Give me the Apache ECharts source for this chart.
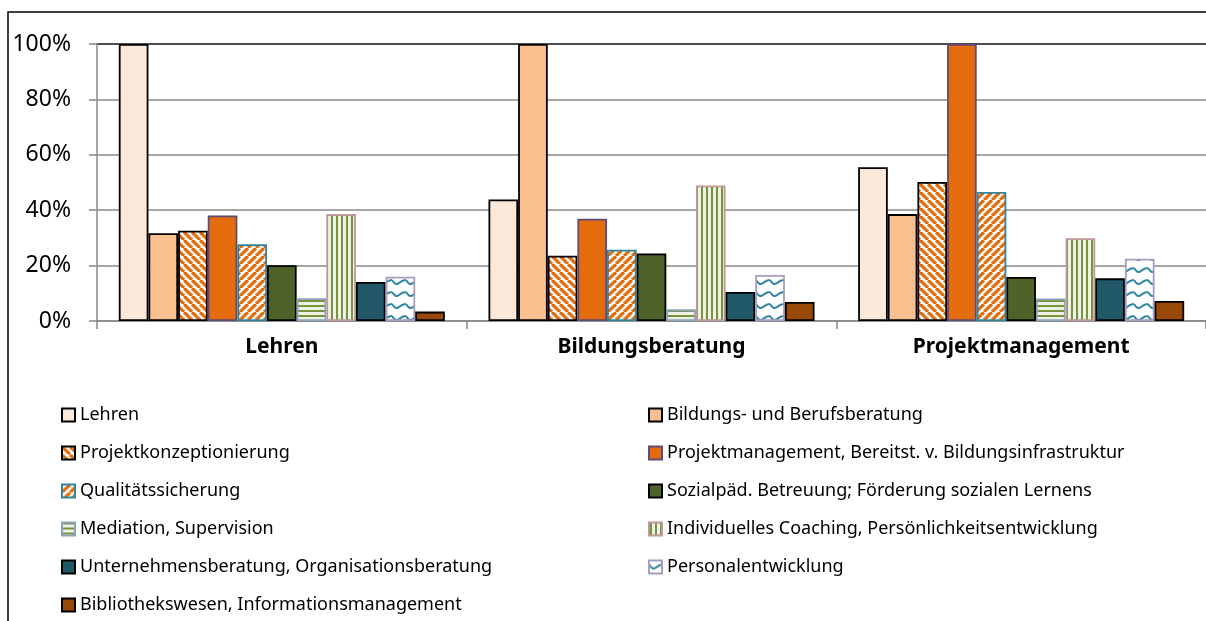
<!DOCTYPE html>
<html>
<head>
<meta charset="utf-8">
<script src="https://cdn.jsdelivr.net/npm/echarts@6/dist/echarts.min.js"></script>
<style>
  html, body { margin: 0; padding: 0; background: #fff; }
  #chart { width: 1206px; height: 621px; }
</style>
</head>
<body>
<div id="chart"></div>
<script>
// Kategorien und Werte (Prozent)
const categories = ['Lehren', 'Bildungsberatung', 'Projektmanagement']
const yTicks = [0, 20, 40, 60, 80, 100]

const names = [
  'Lehren',
  'Bildungs- und Berufsberatung',
  'Projektkonzeptionierung',
  'Projektmanagement, Bereitst. v. Bildungsinfrastruktur',
  'Qualitätssicherung',
  'Sozialpäd. Betreuung; Förderung sozialen Lernens',
  'Mediation, Supervision',
  'Individuelles Coaching, Persönlichkeitsentwicklung',
  'Unternehmensberatung, Organisationsberatung',
  'Personalentwicklung',
  'Bibliothekswesen, Informationsmanagement'
]

const lehren = [100, 43.9, 55.5]
const bildungsBeratung = [31.7, 100, 38.6]
const projektKonzeption = [32.6, 23.6, 50.2]
const projektManagement = [38.1, 36.9, 100]
const qualitaet = [27.7, 25.7, 46.6]
const sozialpaed = [20.1, 24.4, 15.9]
const mediation = [8.2, 4.2, 8.1]
const coaching = [38.6, 48.9, 29.9]
const unternehmen = [14.1, 10.5, 15.4]
const personal = [16.0, 16.6, 22.5]
const bibliothek = [3.4, 6.9, 7.2]

const values = [lehren, bildungsBeratung, projektKonzeption, projektManagement, qualitaet,
  sozialpaed, mediation, coaching, unternehmen, personal, bibliothek]

// Muster fuer die schraffierten Balken
function pattern(w, h, draw) {
  const c = document.createElement('canvas')
  c.width = w
  c.height = h
  const g = c.getContext('2d')
  g.fillStyle = '#fff'
  g.fillRect(0, 0, w, h)
  draw(g)
  return { image: c, repeat: 'repeat' }
}

const diagDown = pattern(8, 8, g => {
  g.strokeStyle = '#E46C0A'
  g.lineWidth = 3.2
  for (let o = -8; o <= 8; o += 8) {
    g.beginPath(); g.moveTo(o, 0); g.lineTo(o + 8, 8); g.stroke()
  }
})
const diagUp = pattern(8, 8, g => {
  g.strokeStyle = '#E46C0A'
  g.lineWidth = 3.2
  for (let o = -8; o <= 8; o += 8) {
    g.beginPath(); g.moveTo(o, 8); g.lineTo(o + 8, 0); g.stroke()
  }
})
const horiz = pattern(5, 5, g => {
  g.fillStyle = '#EEF2E6'
  g.fillRect(0, 0, 5, 5)
  g.fillStyle = '#77933C'
  g.fillRect(0, 0, 5, 2)
})
const vert = pattern(5, 5, g => {
  g.fillStyle = '#EEF2E6'
  g.fillRect(0, 0, 5, 5)
  g.fillStyle = '#77933C'
  g.fillRect(1, 0, 2, 5)
})
const wave = pattern(14, 12, g => {
  g.strokeStyle = '#31859C'
  g.lineWidth = 2
  g.beginPath()
  g.moveTo(0, 4)
  g.quadraticCurveTo(3.5, 10, 7, 7)
  g.quadraticCurveTo(10.5, 4, 14, 4)
  g.stroke()
})

const fills = ['#FDE9D9', '#FAC090', diagDown, '#E46C0A', diagUp, '#4F6228', horiz, vert, '#215968', wave, '#984807']
const borders = ['#000', '#000', '#000', '#604A7B', '#31859C', '#000', '#8EA2C0', '#C09898', '#000', '#A89CC0', '#000']

const font = 'Noto Sans'

const chart = echarts.init(document.getElementById('chart'))

const legendBase = {
  top: 406, height: 260, padding: 0, orient: 'vertical', itemGap: 20,
  itemWidth: 13, itemHeight: 13, icon: 'rect',
  textStyle: { fontFamily: font, fontSize: 18, color: '#000' }
}

const option = {
  animation: false,
  backgroundColor: '#fff',
  graphic: [{
    type: 'rect',
    shape: { x: 8, y: 12, width: 1300, height: 700 },
    style: { fill: 'none', stroke: '#000', lineWidth: 1.5 },
    silent: true
  }],
  grid: { left: 97, top: 44, right: -13, bottom: 300 },
  legend: [
    Object.assign({}, legendBase, { left: 61, data: names.filter((n, i) => i % 2 === 0) }),
    Object.assign({}, legendBase, { left: 648, data: names.filter((n, i) => i % 2 === 1) })
  ],
  xAxis: {
    type: 'category',
    data: categories,
    axisLine: { lineStyle: { color: '#888', width: 1.5 } },
    axisTick: { show: true, length: 8, lineStyle: { color: '#888', width: 1.5 } },
    axisLabel: { fontFamily: font, fontSize: 21, fontWeight: 'bold', color: '#000', margin: 16 }
  },
  yAxis: {
    type: 'value',
    min: yTicks[0],
    max: yTicks[yTicks.length - 1],
    interval: 20,
    axisLine: { show: true, lineStyle: { color: '#888', width: 1.5 } },
    axisTick: { show: true, length: 8, lineStyle: { color: '#888', width: 1.5 } },
    axisLabel: { fontFamily: font, fontSize: 23, color: '#000', margin: 26, formatter: '{value}%' },
    splitLine: { lineStyle: { color: ['#888', '#888', '#888', '#888', '#888', '#111'], width: 1.5 } }
  },
  series: names.map((name, i) => ({
    name: name,
    type: 'bar',
    data: values[i],
    barGap: 0,
    barCategoryGap: '11.8%',
    itemStyle: { color: fills[i], borderColor: borders[i], borderWidth: 1.8 }
  }))
}

chart.setOption(option)
</script>
</body>
</html>
